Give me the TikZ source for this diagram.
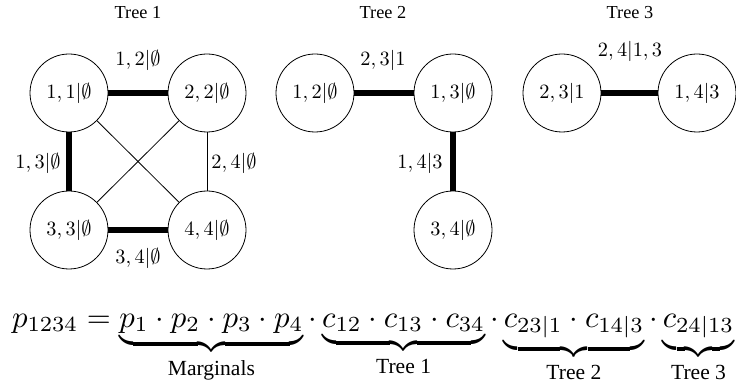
\RequirePackage{fix-cm}
\documentclass[tikz,border=0pt]{standalone}
\usepackage{amsmath}
\usepackage{graphicx}
\usepackage[no-math]{fontspec}
\setmainfont{Liberation Serif}
\newcommand{\nlab}[1]{\scalebox{2.03}{$#1$}}
\tikzset{
  vnode/.style={circle, draw, line width=0.8pt, minimum size=78pt, inner sep=0pt},
  thickedge/.style={line width=6pt},
  thinedge/.style={line width=0.8pt},
  elabel/.style={inner sep=0pt},
  ttitle/.style={font=\fontsize{18.3}{22}\selectfont, inner sep=0pt}
}
\begin{document}
\begin{tikzpicture}[x=1pt,y=-1pt]
\useasboundingbox (0,0) rectangle (736,387);
% titles
\node[ttitle] (t1) at (138,13) {Tree 1};
\node[ttitle] (t2) at (383,13) {Tree 2};
\node[ttitle] (t3) at (630,13) {Tree 3};
% tree 1
\node[vnode] (a11) at (69,93) {\nlab{1,1|\emptyset}};
\node[vnode] (a22) at (207,93) {\nlab{2,2|\emptyset}};
\node[vnode] (a33) at (69,230) {\nlab{3,3|\emptyset}};
\node[vnode] (a44) at (207,230) {\nlab{4,4|\emptyset}};
\draw[thickedge] (a11) -- (a22);
\draw[thickedge] (a11) -- (a33);
\draw[thickedge] (a33) -- (a44);
\draw[thinedge] (a22) -- (a44);
\draw[thinedge] (a11) -- (a44);
\draw[thinedge] (a22) -- (a33);
\node[elabel] (l12) at (138,60) {\nlab{1,2|\emptyset}};
\node[elabel] (l13) at (38,163) {\nlab{1,3|\emptyset}};
\node[elabel] (l24) at (234,163) {\nlab{2,4|\emptyset}};
\node[elabel] (l34) at (138,258) {\nlab{3,4|\emptyset}};
% tree 2
\node[vnode] (b12) at (315,93) {\nlab{1,2|\emptyset}};
\node[vnode] (b13) at (453,93) {\nlab{1,3|\emptyset}};
\node[vnode] (b34) at (453,230) {\nlab{3,4|\emptyset}};
\draw[thickedge] (b12) -- (b13);
\draw[thickedge] (b13) -- (b34);
\node[elabel] (l231) at (383,60) {\nlab{2,3|1}};
\node[elabel] (l143) at (420,163) {\nlab{1,4|3}};
% tree 3
\node[vnode] (c231) at (562,93) {\nlab{2,3|1}};
\node[vnode] (c143) at (697,93) {\nlab{1,4|3}};
\draw[thickedge] (c231) -- (c143);
\node[elabel] (l2413) at (630,51) {\nlab{2,4|1,3}};
% equation
\node[anchor=base west, inner sep=0pt] (eq) at (12,327)
  {\scalebox{3.08}{$p_{1234} = \underbrace{p_1\cdot p_2\cdot p_3\cdot p_4}_{\text{Marginals}}\cdot\underbrace{c_{12}\cdot c_{13}\cdot c_{34}}_{\text{Tree 1}}\cdot\underbrace{c_{23|1}\cdot c_{14|3}}_{\text{Tree 2}}\cdot\underbrace{c_{24|13}}_{\text{Tree 3}}$}};
\end{tikzpicture}
\end{document}
